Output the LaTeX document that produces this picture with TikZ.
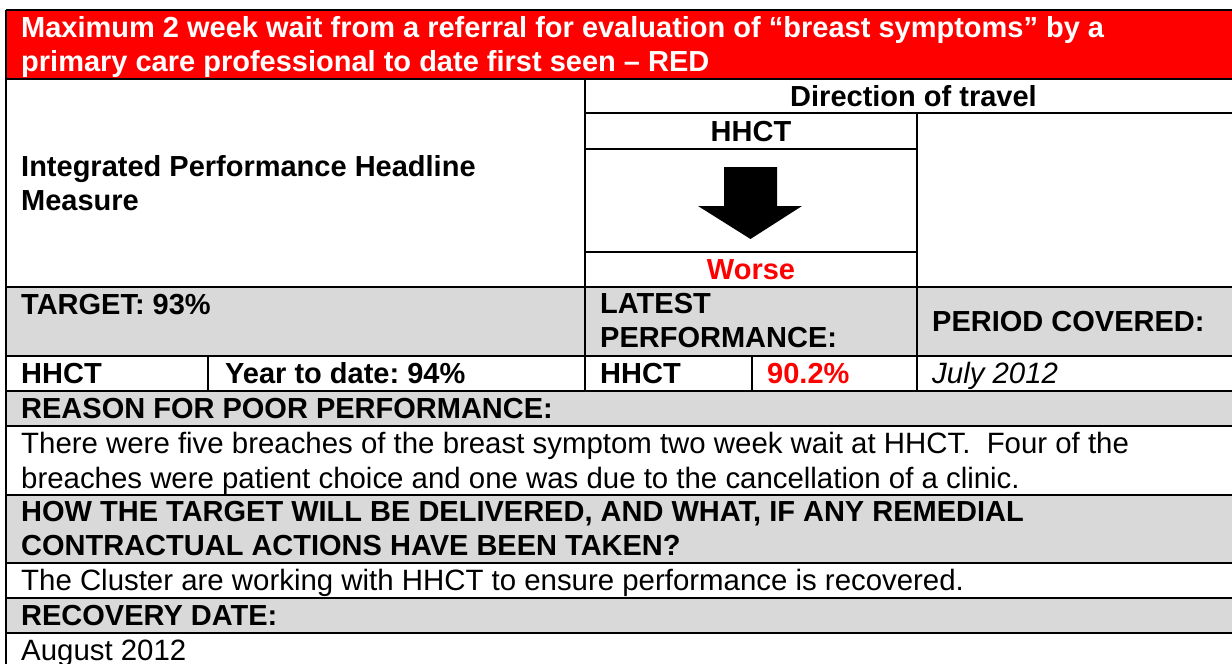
\documentclass[tikz,border=0pt]{standalone}
\usepackage{fontspec}
\setmainfont{Liberation Sans}
\usepackage{tikz}
\usetikzlibrary{positioning}
\definecolor{gris}{RGB}{217,217,217}
\frenchspacing

\begin{document}
\begin{tikzpicture}[
    x=1pt, y=-1pt,
    cell/.style={anchor=base west, inner sep=0pt,
      font=\fontsize{29}{34.5}\selectfont\bfseries},
    bloc/.style={anchor=north west, inner sep=0pt, align=left,
      font=\fontsize{29}{34.5}\selectfont\bfseries},
    corps/.style={cell, font=\fontsize{29.4}{34.5}\selectfont},
    grille/.style={line width=1.6pt, draw=black}
]
  \clip (0,0) rectangle (1232,664);

  % Fonds
  \fill[red]  (6,10)   rectangle (1242,79);
  \fill[gris] (6,287)  rectangle (1242,356);
  \fill[gris] (6,391)  rectangle (1242,426);
  \fill[gris] (6,495)  rectangle (1242,563);
  \fill[gris] (6,598)  rectangle (1242,633);

  % Grille
  \foreach \ligne in {10,79,287,356,391,426,495,563,598,633}
    \draw[grille] (6,\ligne) -- (1242,\ligne);
  \draw[grille] (585,113) -- (1242,113);
  \draw[grille] (585,149) -- (917,149);
  \draw[grille] (585,252) -- (917,252);
  \draw[grille] (6,10) -- (6,670);
  \draw[grille] (585,79) -- (585,391);
  \draw[grille] (917,113) -- (917,391);
  \draw[grille] (208,356) -- (208,391);
  \draw[grille] (752,356) -- (752,391);

  % Flèche vers le bas
  \fill[black] (724,167) -- (777,167) -- (777,206) -- (802,206)
    -- (750.5,239) -- (698,206) -- (724,206) -- cycle;

  % Textes
  \node[bloc, text=white] (titre) at (21,16)
    {Maximum 2 week wait from a referral for evaluation of “breast symptoms” by a\\primary care professional to date first seen – RED};
  \node[bloc] (mesure) at (21,155) {Integrated Performance Headline\\Measure};
  \node[cell, anchor=base] (direction) at (913.5,106) {Direction of travel};
  \node[cell, anchor=base] (hhctdir) at (751,141) {HHCT};
  \node[cell, anchor=base, text=red] (tendance) at (751,279) {Worse};
  \node[cell] (cible) at (21,314) {TARGET: 93\%};
  \node[bloc] (derniere) at (600,293) {LATEST\\PERFORMANCE:};
  \node[cell] (periode) at (932,331) {PERIOD COVERED:};
  \node[cell] (hhct) at (21,383) {HHCT};
  \node[cell] (cumul) at (225,383) {Year to date: 94\%};
  \node[cell] (hhctperf) at (600,383) {HHCT};
  \node[cell, text=red] (valeur) at (767,383) {90.2\%};
  \node[corps, font=\fontsize{29.4}{34.5}\selectfont\itshape] (mois) at (932,383) {July 2012};
  \node[cell] (raison) at (21,418) {REASON FOR POOR PERFORMANCE:};
  \node[corps, anchor=north west, align=left] (explication) at (21,432)
    {There were five breaches of the breast symptom two week wait at HHCT.~ Four of the\\breaches were patient choice and one was due to the cancellation of a clinic.};
  \node[bloc] (moyens) at (21,501)
    {HOW THE TARGET WILL BE DELIVERED, AND WHAT, IF ANY REMEDIAL\\CONTRACTUAL ACTIONS HAVE BEEN TAKEN?};
  \node[corps] (action) at (21,590) {The Cluster are working with HHCT to ensure performance is recovered.};
  \node[cell] (reprise) at (21,625) {RECOVERY DATE:};
  \node[corps] (date) at (21,660) {August 2012};
\end{tikzpicture}
\end{document}
